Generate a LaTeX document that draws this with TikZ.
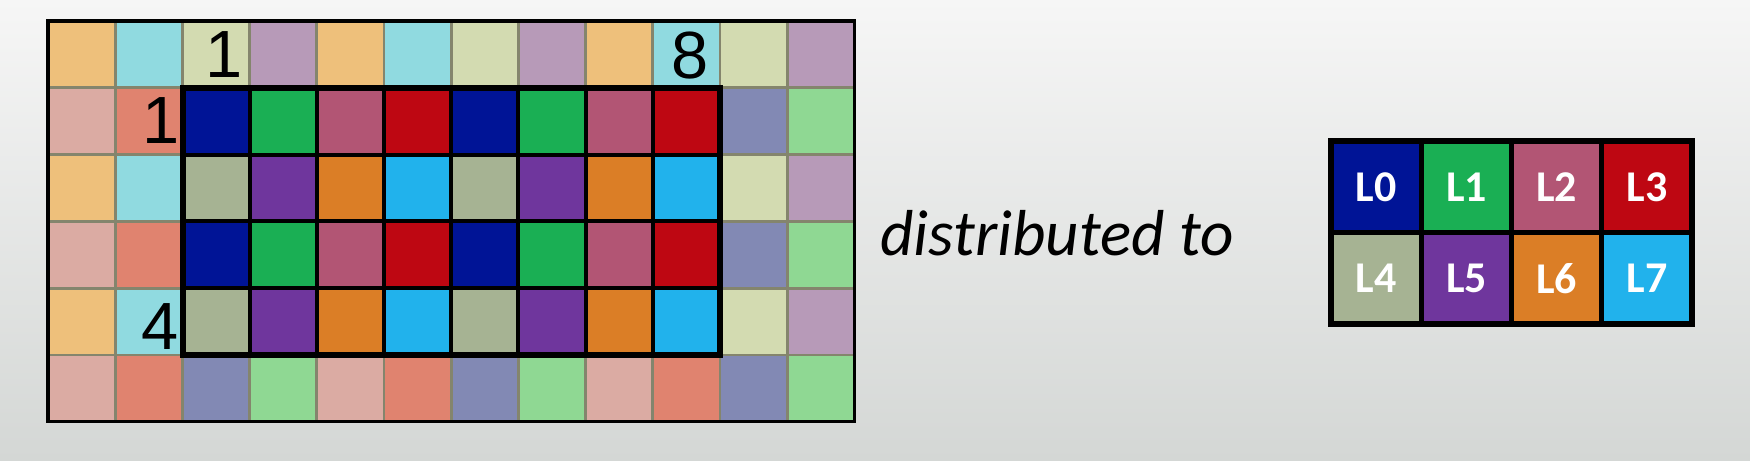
\documentclass[tikz,border=0pt]{standalone}
\usepackage{fontspec}
\usepackage{tikz}
\usetikzlibrary{calc}
\newfontfamily\digitfont{Liberation Sans}
\newfontfamily\lanefont{Carlito}

\definecolor{bgtop}{HTML}{F6F6F6}
\definecolor{bgbot}{HTML}{D4D7D5}
\definecolor{haloline}{HTML}{84856D}
% saturated colours (row parity, column mod 4)
\definecolor{core00}{HTML}{DB7E26}
\definecolor{core01}{HTML}{21B2EC}
\definecolor{core02}{HTML}{A6B393}
\definecolor{core03}{HTML}{6F369D}
\definecolor{core10}{HTML}{B25574}
\definecolor{core11}{HTML}{BE0712}
\definecolor{core12}{HTML}{001496}
\definecolor{core13}{HTML}{1AAF54}
% light halo colours
\definecolor{halo00}{HTML}{EEC07B}
\definecolor{halo01}{HTML}{90DAE0}
\definecolor{halo02}{HTML}{D3DBB1}
\definecolor{halo03}{HTML}{B79AB8}
\definecolor{halo10}{HTML}{DBABA3}
\definecolor{halo11}{HTML}{E0836F}
\definecolor{halo12}{HTML}{8289B4}
\definecolor{halo13}{HTML}{8FD893}

\tikzset{
	digit/.style={anchor=base, inner sep=0pt, font=\fontsize{38}{40}\selectfont\digitfont},
	lanebox/.style={draw=black, line width=3pt, inner sep=0pt, outer sep=0pt,
		minimum width=1.805cm, minimum height=1.83cm, text=white,
		font=\fontsize{25}{28}\selectfont\lanefont\bfseries},
}

\begin{document}
\begin{tikzpicture}[x=0.02cm, y=-0.02cm]
			%%%%% START %%%%%
			
			\shade[top color=bgtop, bottom color=bgbot] (0, 0) rectangle (1750, 460);
			\useasboundingbox (0, 0) rectangle (1750, 460);
			
			% halo cells
			\foreach \i in {0,...,11}
				\foreach \j in {0,...,5}{
					\pgfmathtruncatemacro\cc{mod(\i,4)}
					\pgfmathtruncatemacro\rr{mod(\j,2)}
					\fill[halo\rr\cc] (48+\i*67.2, 21+\j*66.8) rectangle ++(67.2, 66.8);
				}
			\foreach \i in {1,...,11} \draw[line width=1.5pt, color=haloline] (48+\i*67.2, 21) -- ++(0, 400.8);
			\foreach \j in {1,...,5} \draw[line width=1.5pt, color=haloline] (48, 21+\j*66.8) -- ++(806.4, 0);
			\draw[line width=1.9pt] (48, 21) rectangle (854.4, 421.8);
			
			% owned block
			\foreach \i in {2,...,9}
				\foreach \j in {1,...,4}{
					\pgfmathtruncatemacro\cc{mod(\i,4)}
					\pgfmathtruncatemacro\rr{mod(\j,2)}
					\fill[core\rr\cc] (48+\i*67.2, 21+\j*66.8) rectangle ++(67.2, 66.8);
				}
			\foreach \i in {3,...,9} \draw[line width=2.3pt] (48+\i*67.2, 87.8) -- ++(0, 267.2);
			\foreach \j in {2,...,4} \draw[line width=2.3pt] (182.4, 21+\j*66.8) -- ++(537.6, 0);
			\draw[line width=3.4pt] (183, 87.8) rectangle (720, 355);
			
			\node[digit] (colfirst) at (224, 77) {1};
			\node[digit] (collast) at (690, 78) {8};
			\node[digit] (rowfirst) at (161, 143) {1};
			\node[digit] (rowlast) at (160, 349) {4};
			
			\node[anchor=base west, inner sep=0pt, font=\fontsize{37}{40}\selectfont\lanefont\itshape] (dist) at (880, 255) {distributed to};
			
			% lanes
			\node[lanebox, fill=core12] (L0) at (1376.1, 186.75) {L0};
			\node[lanebox, fill=core13] (L1) at (1466.4, 186.75) {L1};
			\node[lanebox, fill=core10] (L2) at (1556.6, 186.75) {L2};
			\node[lanebox, fill=core11] (L3) at (1646.9, 186.75) {L3};
			\node[lanebox, fill=core02] (L4) at (1376.1, 278.25) {L4};
			\node[lanebox, fill=core03] (L5) at (1466.4, 278.25) {L5};
			\node[lanebox, fill=core00] (L6) at (1556.6, 278.25) {L6};
			\node[lanebox, fill=core01] (L7) at (1646.9, 278.25) {L7};
			\draw[line width=3.2pt] (L0.north west) rectangle (L7.south east);
			
			%%%%% END %%%%%
		\end{tikzpicture}
\end{document}
